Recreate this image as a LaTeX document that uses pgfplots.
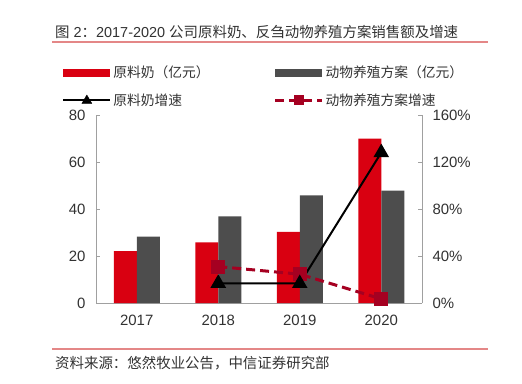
\documentclass[border=0pt]{standalone}
\usepackage{pgfplots}
\pgfplotsset{compat=1.18}
\usepackage{fontspec}
\setmainfont{Liberation Sans}
\newfontfamily\cjk{Noto Sans CJK SC}
\definecolor{barred}{RGB}{217,0,17}
\definecolor{bargray}{RGB}{77,77,77}
\definecolor{dashred}{RGB}{165,0,33}
\definecolor{txt}{RGB}{50,50,50}
\definecolor{rule}{RGB}{228,135,135}
\definecolor{axgray}{RGB}{160,160,160}
\begin{document}
\begin{tikzpicture}[x=1bp,y=1bp]
\useasboundingbox (0,0) rectangle (522,383);
% title and rules
\node[anchor=west,text=txt,inner sep=0pt,font=\fontsize{14.5}{17}\selectfont] at (55,351) {{\cjk 图} 2{\cjk ：}2017-2020 {\cjk 公司原料奶、反刍动物养殖方案销售额及增速}};
\draw[rule,line width=1.5bp] (52,341) -- (488,341);
\draw[rule,line width=1.5bp] (52,34) -- (488,34);
\node[anchor=west,text=txt,inner sep=0pt,font=\fontsize{14.5}{17}\selectfont] at (55,20) {\cjk 资料来源：悠然牧业公告，中信证券研究部};
\begin{axis}[
  at={(96bp,80bp)}, anchor=south west,
  scale only axis, width=326bp, height=188bp,
  xmin=-0.5, xmax=3.5, ymin=0, ymax=80,
  xtick={0,1,2,3}, xticklabels={2017,2018,2019,2020},
  ytick={0,20,40,60,80},
  axis x line*=bottom, axis y line*=left,
  axis line style={axgray,line width=0.8bp},
  x axis line style={-}, y axis line style={-},
  xtick style={draw=none},
  ytick style={axgray,line width=0.8bp},
  tick align=inside, major tick length=4bp,
  ybar=0pt, bar width=23bp,
  /pgf/number format/assume math mode=true,
  tick label style={text=txt,font=\fontsize{15}{18}\selectfont},
  yticklabel style={xshift=-7bp},
  xticklabel style={yshift=-5bp},
  legend columns=2,
  legend style={draw=none,fill=none,at={(rel axis cs:-0.113,1.282)},anchor=north west,
    font=\cjk\fontsize{13.8}{16}\selectfont,text=txt,
    /tikz/every even column/.append style={column sep=62bp},
    row sep=10bp},
  legend cell align=left,
]
\addplot[fill=barred,draw=none,legend image code/.code={\fill[barred] (0bp,-4bp) rectangle (47bp,4bp);}] coordinates {(0,22.1) (1,25.8) (2,30.3) (3,69.9)};
\addlegendentry{原料奶（亿元）}
\addplot[fill=bargray,draw=none,legend image code/.code={\fill[bargray] (0bp,-4bp) rectangle (47bp,4bp);}] coordinates {(0,28.2) (1,36.9) (2,45.8) (3,47.8)};
\addlegendentry{动物养殖方案（亿元）}
\addlegendimage{legend image code/.code={\draw[black,line width=2bp] (0bp,0bp) -- (47bp,0bp);
  \begin{scope}[shift={(23.5bp,0bp)}]\fill[black] (-5bp,-3.5bp) -- (5bp,-3.5bp) -- (0bp,5bp) -- cycle;\end{scope}}}
\addlegendentry{原料奶增速}
\addlegendimage{legend image code/.code={\draw[dashred,line width=3bp,dash pattern=on 9bp off 5bp] (0bp,0bp) -- (47bp,0bp);
  \fill[dashred] (19bp,-4.5bp) rectangle (28bp,4.5bp);}}
\addlegendentry{动物养殖方案增速}
\end{axis}
\begin{axis}[
  at={(96bp,80bp)}, anchor=south west,
  scale only axis, width=326bp, height=188bp,
  xmin=-0.5, xmax=3.5, ymin=0, ymax=160,
  ytick={0,40,80,120,160},
  yticklabel={\pgfmathprintnumber{\tick}\%},
  axis x line=none, axis y line*=right,
  axis line style={axgray,line width=0.8bp},
  y axis line style={-},
  ytick style={axgray,line width=0.8bp},
  tick align=inside, major tick length=4bp,
  /pgf/number format/assume math mode=true,
  tick label style={text=txt,font=\fontsize{15}{18}\selectfont},
  yticklabel style={xshift=7bp},
]
\addplot[dashred,line width=3bp,dash pattern=on 9bp off 5bp,mark=square*,mark size=5.5bp,mark options={solid}] coordinates {(1,31) (2,24.5) (3,3.5)};
\addplot[black,line width=2bp,mark=triangle*,mark size=7bp,mark options={solid}] coordinates {(1,16.8) (2,16.6) (3,128)};
\end{axis}
\end{tikzpicture}
\end{document}
